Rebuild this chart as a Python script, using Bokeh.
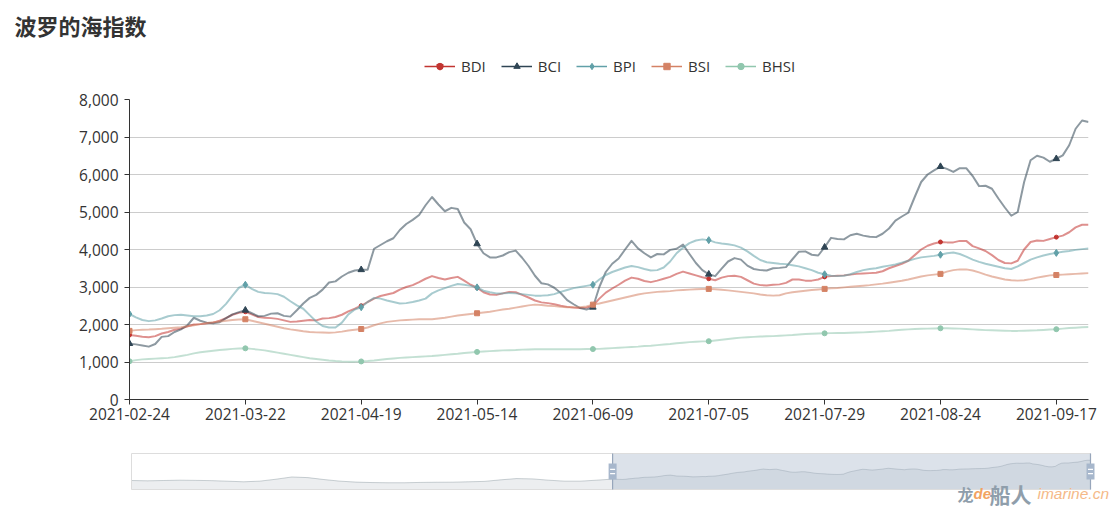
from bokeh.plotting import figure
from bokeh.models import (Range1d, FixedTicker, NumeralTickFormatter, Label,
                          Legend, LegendItem, ColumnDataSource)
from bokeh.layouts import column
from bokeh.embed import file_html
from bokeh.resources import INLINE

# ---- data: Baltic Exchange indices, one value per trading day ----
tick_labels = ["2021-02-24", "2021-03-22", "2021-04-19", "2021-05-14", "2021-06-09",
               "2021-07-05", "2021-07-29", "2021-08-24", "2021-09-17"]
label_interval = 18

bdi = [1720, 1700, 1675, 1660, 1690, 1760, 1800, 1860, 1890, 1950, 2000, 2010, 2030, 2050, 2100, 2170, 2260, 2310, 2340,
       2270, 2200, 2180, 2170, 2150, 2110, 2070, 2080, 2100, 2120, 2110, 2160, 2170, 2200, 2260, 2350, 2420, 2500,
       2600, 2690, 2760, 2800, 2840, 2930, 3000, 3050, 3130, 3220, 3290, 3240, 3200, 3240, 3270, 3170, 3060, 2980,
       2860, 2800, 2790, 2830, 2870, 2860, 2790, 2720, 2640, 2590, 2570, 2540, 2500, 2470, 2450, 2440, 2450, 2500,
       2690, 2850, 2960, 3060, 3170, 3250, 3220, 3160, 3130, 3170, 3220, 3270, 3350, 3410, 3360, 3310, 3260, 3220,
       3180, 3250, 3290, 3300, 3270, 3180, 3090, 3050, 3040, 3060, 3070, 3110, 3200, 3200, 3170, 3170, 3200, 3270,
       3290, 3300, 3310, 3330, 3350, 3360, 3370, 3380, 3420, 3500, 3560, 3620, 3700, 3850, 4000, 4100, 4160, 4200,
       4190, 4190, 4230, 4230, 4090, 4030, 3960, 3850, 3720, 3640, 3630, 3700, 4000, 4200, 4240, 4230, 4280, 4330,
       4370, 4460, 4590, 4660, 4660]

bci = [1490, 1470, 1440, 1410, 1480, 1670, 1690, 1800, 1870, 1980, 2180, 2100, 2050, 2030, 2060, 2170, 2270, 2330, 2380,
       2300, 2220, 2230, 2290, 2300, 2230, 2210, 2380, 2560, 2710, 2790, 2930, 3120, 3150, 3280, 3380, 3440, 3460,
       3460, 4020, 4120, 4220, 4300, 4520, 4680, 4790, 4920, 5180, 5400, 5200, 5020, 5110, 5080, 4720, 4540, 4150,
       3900, 3790, 3790, 3840, 3930, 3970, 3780, 3560, 3300, 3100, 3070, 2980, 2840, 2650, 2540, 2440, 2400, 2460,
       3000, 3400, 3620, 3760, 4000, 4230, 4030, 3900, 3790, 3880, 3870, 3990, 4020, 4130, 3880, 3640, 3450, 3340,
       3290, 3490, 3680, 3770, 3730, 3570, 3480, 3450, 3440, 3500, 3510, 3530, 3740, 3940, 3950, 3860, 3840, 4060,
       4310, 4280, 4270, 4380, 4420, 4370, 4340, 4330, 4420, 4560, 4770, 4880, 4980, 5400, 5800, 6000, 6110, 6210,
       6150, 6070, 6170, 6170, 5960, 5690, 5700, 5620, 5360, 5120, 4900, 5000, 5800, 6380, 6500, 6450, 6340, 6420,
       6510, 6780, 7220, 7440, 7400]

bpi = [2280, 2190, 2120, 2090, 2110, 2160, 2220, 2250, 2260, 2240, 2220, 2220, 2240, 2280, 2380, 2550, 2770, 2980, 3060,
       2950, 2870, 2840, 2830, 2810, 2740, 2620, 2510, 2420, 2250, 2080, 1960, 1920, 1920, 2050, 2270, 2400, 2460,
       2600, 2710, 2690, 2640, 2600, 2560, 2570, 2600, 2640, 2690, 2830, 2910, 2970, 3030, 3080, 3060, 3030, 2990,
       2900, 2860, 2830, 2830, 2840, 2830, 2810, 2790, 2770, 2770, 2780, 2810, 2870, 2920, 2970, 3000, 3030, 3060,
       3200, 3320, 3400, 3460, 3520, 3560, 3530, 3480, 3440, 3450, 3520, 3680, 3900, 4050, 4170, 4240, 4270, 4250,
       4190, 4160, 4140, 4110, 4050, 3950, 3830, 3720, 3660, 3640, 3620, 3610, 3580, 3550, 3500, 3450, 3380, 3340,
       3300, 3290, 3300, 3340, 3400, 3450, 3480, 3500, 3540, 3570, 3600, 3650, 3700, 3750, 3790, 3810, 3830, 3860,
       3900, 3920, 3880, 3810, 3730, 3670, 3620, 3580, 3540, 3500, 3480, 3550, 3640, 3730, 3790, 3840, 3880, 3910,
       3940, 3960, 3990, 4010, 4030]

bsi = [1830, 1850, 1860, 1865, 1875, 1885, 1900, 1915, 1930, 1955, 1980, 2010, 2040, 2060, 2080, 2100, 2120, 2135, 2140,
       2100, 2060, 2020, 1980, 1940, 1900, 1870, 1845, 1820, 1800, 1790, 1785, 1780, 1790, 1810, 1840, 1860, 1880,
       1920, 1980, 2030, 2070, 2090, 2110, 2120, 2130, 2140, 2140, 2140, 2160, 2180, 2210, 2240, 2260, 2280, 2300,
       2320, 2340, 2370, 2400, 2420, 2450, 2480, 2510, 2530, 2520, 2500, 2490, 2470, 2460, 2460, 2460, 2480, 2530,
       2560, 2600, 2640, 2680, 2720, 2760, 2800, 2830, 2850, 2870, 2880, 2890, 2910, 2920, 2930, 2940, 2945, 2950,
       2940, 2925, 2910, 2890, 2870, 2850, 2830, 2800, 2780, 2770, 2780, 2830, 2860, 2880, 2900, 2920, 2935, 2950,
       2965, 2975, 2990, 3005, 3020, 3035, 3050, 3070, 3090, 3115, 3140, 3165, 3200, 3240, 3280, 3310, 3330, 3350,
       3410, 3450, 3470, 3470, 3440, 3390, 3330, 3280, 3240, 3200, 3180, 3170, 3180, 3210, 3250, 3280, 3310, 3320,
       3330, 3340, 3350, 3360, 3370]

bhsi = [1020, 1050, 1070, 1080, 1090, 1100, 1110, 1130, 1160, 1190, 1230, 1260, 1280, 1300, 1320, 1335, 1350, 1360, 1365,
        1350, 1330, 1310, 1280, 1250, 1220, 1190, 1160, 1130, 1100, 1080, 1060, 1040, 1025, 1015, 1010, 1010, 1015,
        1025, 1040, 1060, 1080, 1095, 1110, 1120, 1130, 1140, 1150, 1160, 1175, 1190, 1205, 1220, 1240, 1255, 1270,
        1280, 1290, 1300, 1310, 1315, 1320, 1330, 1335, 1340, 1340, 1340, 1340, 1340, 1340, 1340, 1340, 1345, 1345,
        1350, 1360, 1370, 1380, 1390, 1400, 1410, 1425, 1435, 1450, 1465, 1480, 1500, 1515, 1530, 1540, 1550, 1555,
        1575, 1595, 1615, 1635, 1650, 1660, 1670, 1680, 1685, 1690, 1700, 1710, 1720, 1735, 1745, 1755, 1760, 1765,
        1770, 1772, 1775, 1780, 1785, 1790, 1800, 1810, 1820, 1830, 1845, 1860, 1870, 1880, 1885, 1890, 1895, 1900,
        1900, 1895, 1890, 1880, 1870, 1860, 1850, 1845, 1840, 1835, 1830, 1830, 1835, 1840, 1845, 1855, 1865, 1875,
        1890, 1905, 1915, 1925, 1935]

# earlier BDI history (weekly, late Jul 2020 .. mid Feb 2021), only shown in the zoom slider
bdi_prior_weekly = [1500, 1450, 1500, 1550, 1520, 1480, 1390, 1300, 1400, 1700, 2050, 1950, 1650, 1400, 1250,
                    1180, 1150, 1150, 1200, 1230, 1240, 1300, 1360, 1600, 1800, 1750, 1550, 1400, 1400, 1550]
days_per_week = 5

series = [
    ("BDI", bdi, "#c23531", "circle"),
    ("BCI", bci, "#2f4554", "triangle"),
    ("BPI", bpi, "#61a0a8", "diamond"),
    ("BSI", bsi, "#d48265", "square"),
    ("BHSI", bhsi, "#91c7ae", "circle"),
]
marker_size = {"BDI": 4, "BCI": 6.5, "BPI": 7, "BSI": 5, "BHSI": 5}
legend_marker_size = {"BDI": 9, "BCI": 12, "BPI": 13, "BSI": 10, "BHSI": 12}

n = len(bdi)
idx = list(range(n))
sym_idx = idx[::label_interval]

FONT = "Open Sans"
TXT = "#333333"
W = 1116
HEAD_H, MAIN_H, SLIDER_H = 90, 350, 69

# ---- header: title and legend ----
h = figure(width=W, height=HEAD_H, x_range=Range1d(0, 1), y_range=Range1d(0, 1),
           output_backend="svg", toolbar_location=None, x_axis_location=None, y_axis_location=None,
           min_border=0, frame_align=False)
h.grid.visible = False
h.outline_line_color = None
h.border_fill_color = "white"

# legend swatches: one point each, placed outside the header's visible range
swatch = ColumnDataSource(data=dict(x=[-10], y=[-10]))
legend_items = []
for name, vals, color, marker in series:
    lr = h.line("x", "y", source=swatch, line_color=color, line_width=1.5)
    rends = [lr]
    if name == "BDI":
        rends.append(h.scatter("x", "y", source=swatch, marker="inverted_triangle", size=7,
                               fill_color=color, line_color=color))
    rends.append(h.scatter("x", "y", source=swatch, marker=marker, size=legend_marker_size[name],
                           fill_color=color, line_color=color))
    legend_items.append(LegendItem(label=name, renderers=rends))

legend = Legend(items=legend_items, orientation="horizontal", location=(424, 14),
                glyph_width=31, glyph_height=16, label_height=16, label_standoff=6,
                spacing=15, padding=0, margin=0, border_line_color=None,
                background_fill_alpha=0, label_text_font=FONT,
                label_text_font_size="15px", label_text_color=TXT)
h.add_layout(legend)
h.add_layout(Label(x=14, y=66, x_units="screen", y_units="screen", text="波罗的海指数",
                   text_font="Noto Sans CJK SC", text_font_style="bold", text_font_size="22px",
                   text_color=TXT, text_baseline="middle", text_align="left"))

# ---- main chart ----
p = figure(width=W, height=MAIN_H, x_range=Range1d(0, n - 1), y_range=Range1d(0, 8000),
           output_backend="svg", toolbar_location=None, frame_align=False,
           min_border_left=129, min_border_right=28, min_border_top=9, min_border_bottom=41)
p.outline_line_color = None
p.background_fill_color = "white"
p.border_fill_color = "white"

p.xgrid.visible = False
p.ygrid.grid_line_color = "#cccccc"
p.ygrid.grid_line_width = 1

p.yaxis.ticker = FixedTicker(ticks=list(range(0, 8001, 1000)))
p.yaxis.formatter = NumeralTickFormatter(format="0,0")
p.xaxis.ticker = FixedTicker(ticks=sym_idx[:len(tick_labels)])
p.xaxis.major_label_overrides = {i: lab for i, lab in zip(sym_idx, tick_labels)}

for ax in (p.xaxis[0], p.yaxis[0]):
    ax.axis_line_color = TXT
    ax.major_tick_line_color = TXT
    ax.major_tick_out = 5
    ax.major_tick_in = 0
    ax.minor_tick_line_color = None
    ax.major_label_text_color = TXT
    ax.major_label_text_font = FONT
    ax.major_label_text_font_size = "15.5px"
p.yaxis.major_label_standoff = 6
p.xaxis.major_label_standoff = 3

for name, vals, color, marker in series:
    p.line(idx, vals, line_color=color, line_width=2, line_alpha=0.55, line_join="round")
    p.scatter(sym_idx, [vals[i] for i in sym_idx], marker=marker,
              size=marker_size[name], fill_color=color, line_color=color)

# ---- zoom slider with BDI data shadow ----
shadow_x = [-(len(bdi_prior_weekly) - k) * days_per_week for k in range(len(bdi_prior_weekly))] + idx
shadow_y = bdi_prior_weekly + bdi
lo_v, hi_v = min(shadow_y), max(shadow_y)
pad = (hi_v - lo_v) * 0.3
y_lo, y_hi = lo_v - pad, hi_v + pad
x_lo, x_hi = shadow_x[0], n - 1

# slider box inside the figure, in pixels
SL_L, SL_R, SL_T, SL_B = 131, 1090, 13, 49
kx = (x_hi - x_lo) / (SL_R - SL_L)
ky = (y_hi - y_lo) / (SL_B - SL_T)
s = figure(width=W, height=SLIDER_H,
           x_range=Range1d(x_lo - SL_L * kx, x_hi + (W - SL_R) * kx),
           y_range=Range1d(y_lo - (SLIDER_H - SL_B) * ky, y_hi + SL_T * ky),
           output_backend="svg", toolbar_location=None, x_axis_location=None, y_axis_location=None,
           min_border=0, frame_align=False)
s.grid.visible = False
s.outline_line_color = None
s.background_fill_color = "white"
s.border_fill_color = "white"

s.varea(x=shadow_x, y1=[y_lo] * len(shadow_x), y2=shadow_y, fill_color="#2f4554", fill_alpha=0.09)
s.line(shadow_x, shadow_y, line_color="#2f4554", line_alpha=0.3, line_width=0.8)
s.quad(left=[0], right=[n - 1], bottom=[y_lo], top=[y_hi], fill_color="#a7b7cb", fill_alpha=0.4,
       line_color=None)
s.quad(left=[x_lo], right=[x_hi], bottom=[y_lo], top=[y_hi], fill_color=None,
       line_color="#dddddd", line_width=1)

mid = (y_lo + y_hi) / 2
ends = [0, n - 1]
s.segment(x0=ends, y0=[y_lo] * 2, x1=ends, y1=[y_hi] * 2, line_color="#97a6bb", line_width=1.2)
s.rect(x=ends, y=[mid] * 2, width=8, height=16, width_units="screen", height_units="screen",
       fill_color="#a7b7cc", line_color=None)
s.scatter(x=ends * 2, y=[mid + 2.2 * ky] * 2 + [mid - 2.2 * ky] * 2, marker="dash", size=5,
          line_color="white", line_width=1.3)

# watermark
for txt, xx, size, color, style, font in [
    ("龙", 957, "16px", "#8f9eab", "bold", "Noto Sans CJK SC"),
    ("de", 973, "15px", "#f2a363", "bold italic", "Liberation Sans"),
    ("船人", 989, "21px", "#8f9eab", "bold", "Noto Sans CJK SC"),
    ("imarine.cn", 1037, "15.5px", "#f5b988", "italic", "Liberation Sans"),
]:
    s.add_layout(Label(x=xx, y=16, x_units="screen", y_units="screen", text=txt,
                       text_font=font, text_font_style=style, text_font_size=size,
                       text_color=color, text_baseline="middle", text_align="left"))

layout = column(h, p, s, spacing=0)
open("out.html", "w").write(file_html(layout, INLINE))
